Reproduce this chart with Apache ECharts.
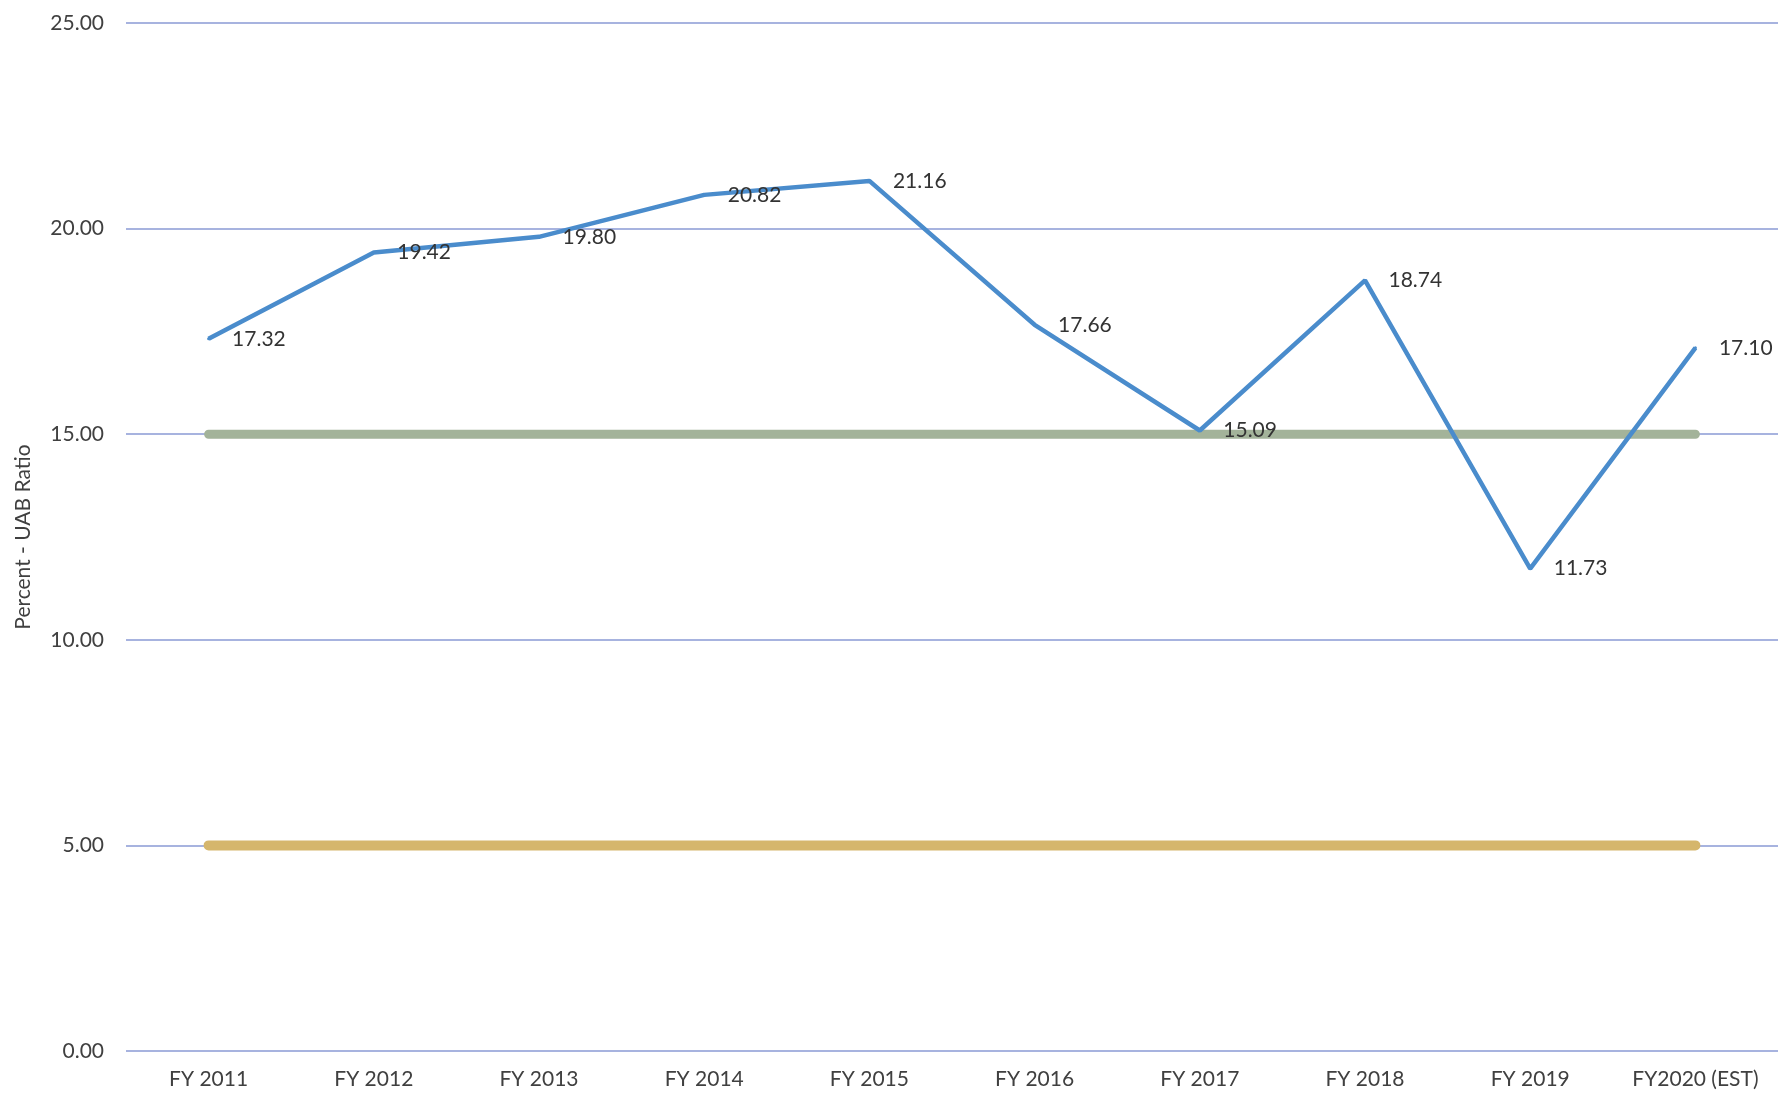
<!DOCTYPE html>
<html>
<head>
<meta charset="utf-8">
<script src="https://cdn.jsdelivr.net/npm/echarts@6/dist/echarts.min.js"></script>
<style>
html,body{margin:0;padding:0;background:#fff;}
#chart{width:1792px;height:1101px;}
</style>
</head>
<body>
<div id="chart"></div>
<script>
const categories = ['FY 2011','FY 2012','FY 2013','FY 2014','FY 2015','FY 2016','FY 2017','FY 2018','FY 2019','FY2020 (EST)'];
const uabRatio = [17.32, 19.42, 19.80, 20.82, 21.16, 17.66, 15.09, 18.74, 11.73, 17.10];
const upperLevel = [15, 15, 15, 15, 15, 15, 15, 15, 15, 15];
const lowerLevel = [5, 5, 5, 5, 5, 5, 5, 5, 5, 5];
const yTicks = { min: 0, max: 25, interval: 5 };
const yAxisTitle = 'Percent - UAB Ratio';

const chart = echarts.init(document.getElementById('chart'), null, {renderer: 'canvas'});
const font = 'Lato, "Open Sans", sans-serif';
chart.setOption({
  animation: false,
  backgroundColor: '#ffffff',
  grid: { left: 126, right: 14, top: 23, bottom: 50, containLabel: false },
  xAxis: {
    type: 'category',
    data: categories,
    boundaryGap: true,
    axisLine: { show: false },
    axisTick: { show: false },
    axisLabel: { color: '#404040', fontSize: 21, fontFamily: font, margin: 18, interval: 0 }
  },
  yAxis: {
    type: 'value',
    min: yTicks.min, max: yTicks.max, interval: yTicks.interval,
    name: yAxisTitle,
    nameLocation: 'middle',
    nameGap: 92,
    nameTextStyle: { color: '#404040', fontSize: 21, fontFamily: font },
    axisLine: { show: false },
    axisTick: { show: false },
    axisLabel: { color: '#404040', fontSize: 21, fontFamily: font, margin: 22,
      formatter: v => v.toFixed(2) },
    splitLine: { lineStyle: { color: '#8a9ad4', width: 1.5 } }
  },
  series: [
    {
      name: 'Lower', type: 'line', data: lowerLevel, symbol: 'none', z: 3,
      lineStyle: { color: '#d5b66c', width: 10, cap: 'round' }
    },
    {
      name: 'Upper', type: 'line', data: upperLevel, symbol: 'none', z: 3,
      lineStyle: { color: '#a3b39a', width: 9, cap: 'round' }
    },
    {
      name: 'UAB Ratio', type: 'line', data: uabRatio, symbol: 'circle', symbolSize: 3,
      showSymbol: true, z: 5,
      itemStyle: { color: '#4a8ccc' },
      lineStyle: { color: '#4a8ccc', width: 4.5 },
      label: { show: true, position: 'right', distance: 22, color: '#333',
        fontSize: 21, fontFamily: font, formatter: p => Number(p.value).toFixed(2) }
    }
  ]
});
</script>
</body>
</html>
